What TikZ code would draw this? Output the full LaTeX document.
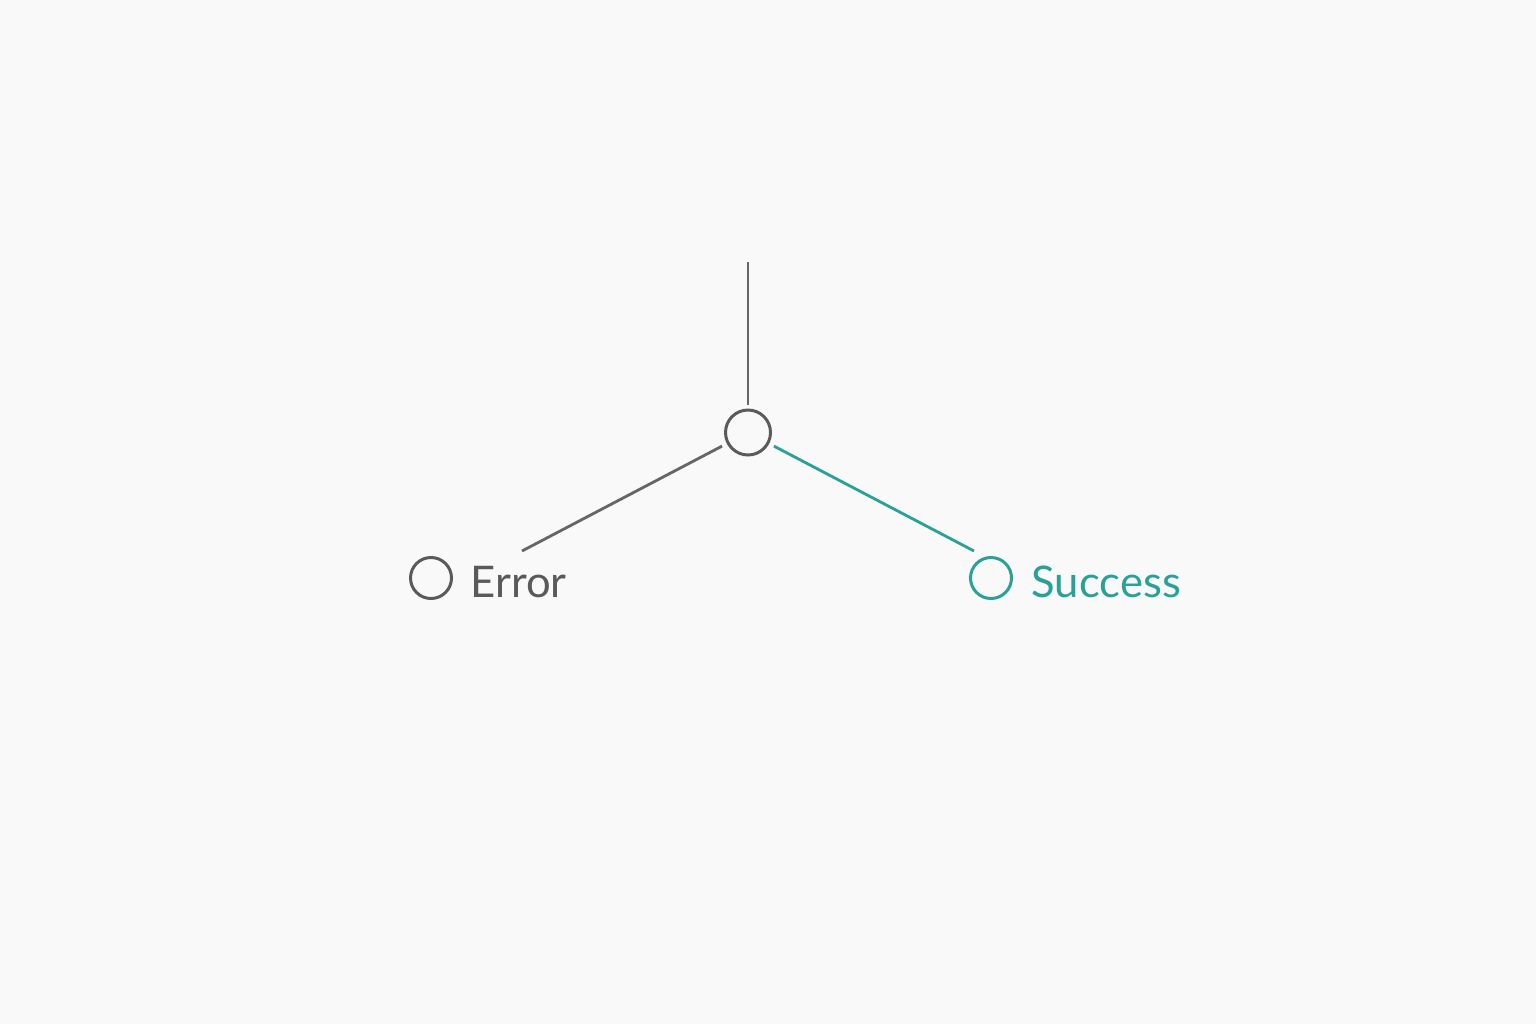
\documentclass[tikz,border=0pt]{standalone}
\usepackage{fontspec}
\setmainfont{Lato}
\definecolor{bggray}{HTML}{F9F9F9}
\definecolor{linegray}{HTML}{666666}
\definecolor{dotgray}{HTML}{5A5A5A}
\definecolor{okteal}{HTML}{2AA196}
\tikzset{
	dot/.style={circle, draw=dotgray, line width=0.85pt, inner sep=0pt, minimum size=0.41cm},
	hubdot/.style={dot, minimum size=0.45cm},
	wire/.style={draw=linegray, line width=0.8pt},
	label/.style={anchor=base west, inner sep=0pt, font=\fontsize{12.4}{14}\selectfont}
}
\begin{document}
\begin{tikzpicture}
	\fill[bggray] (0,0) rectangle (15.36,10.24);
	\useasboundingbox (0,0) rectangle (15.36,10.24);
	
	\node[hubdot] (hub) at (7.48,5.915) {};
	\node[dot] (errdot) at (4.31,4.46) {};
	\node[dot, draw=okteal] (okdot) at (9.91,4.46) {};
	\node[label, text=dotgray] (errlabel) at (4.70,4.27) {Error};
	\node[label, text=okteal] (oklabel) at (10.31,4.27) {Success};
	
	\coordinate (in) at (7.48,7.62);
	\coordinate (errend) at (5.22,4.73);
	\coordinate (okend) at (9.74,4.73);
	
	\draw[wire, shorten >=1pt] (in) -- (hub);
	\draw[wire, shorten <=1.5pt] (hub) -- (errend);
	\draw[wire, draw=okteal, shorten <=1.5pt] (hub) -- (okend);
\end{tikzpicture}
\end{document}
